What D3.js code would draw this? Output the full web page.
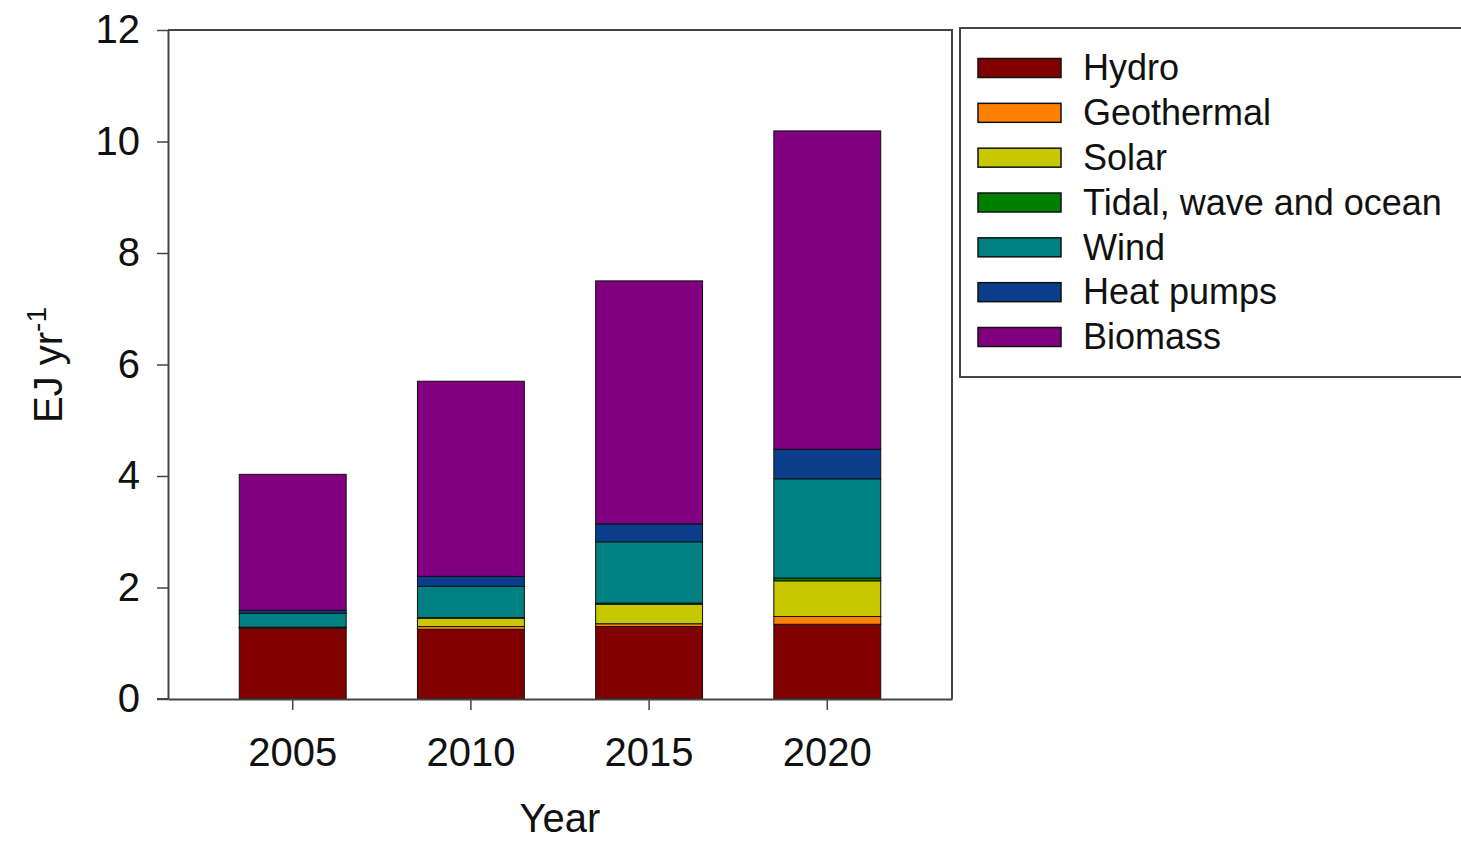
<!DOCTYPE html>
<html>
<head>
<meta charset="utf-8">
<script src="https://cdn.jsdelivr.net/npm/d3@7"></script>
<style>
  html, body { margin: 0; padding: 0; background: #fff; }
  svg { display: block; font-family: "Liberation Sans", Arial, sans-serif; }
</style>
</head>
<body>
<svg id="chart" width="1461" height="842"></svg>
<script>
// Renewable energy supply by source, EJ per year
const years = ["2005", "2010", "2015", "2020"];
const sources = ["Hydro", "Geothermal", "Solar", "Tidal, wave and ocean", "Wind", "Heat pumps", "Biomass"];
const hydro      = [1.27, 1.25, 1.30, 1.34];
const geothermal = [0.01, 0.05, 0.05, 0.14];
const solar      = [0.005, 0.15, 0.35, 0.64];
const tidal      = [0.005, 0.01, 0.02, 0.05];
const wind       = [0.25, 0.56, 1.10, 1.78];
const heatPumps  = [0.05, 0.18, 0.32, 0.53];
const biomass    = [2.44, 3.50, 4.36, 5.71];
const yTicks = [0, 2, 4, 6, 8, 10, 12];
const colors = ["#800000", "#ff8000", "#c8c800", "#008000", "#008080", "#0a3d8c", "#800080"];

const series = [hydro, geothermal, solar, tidal, wind, heatPumps, biomass];
const table = years.map((yr, i) => {
  const row = { year: yr };
  sources.forEach((s, k) => { row[s] = series[k][i]; });
  return row;
});

const svg = d3.select("#chart");
const plotL = 168, plotR = 952, plotT = 30, plotB = 699;

const x = d3.scaleBand().domain(years).range([plotL, plotR]).paddingInner(0.4).paddingOuter(0.4);
const y = d3.scaleLinear().domain([0, 12]).range([plotB, plotT]);
const color = d3.scaleOrdinal().domain(sources).range(colors);

const stacked = d3.stack().keys(sources)(table);

// stacked bars
svg.append("g").selectAll("g")
  .data(stacked)
  .join("g")
  .attr("fill", d => color(d.key))
  .selectAll("rect")
  .data(d => d)
  .join("rect")
  .attr("x", d => x(d.data.year))
  .attr("width", x.bandwidth())
  .attr("y", d => y(d[1]))
  .attr("height", d => y(d[0]) - y(d[1]))
  .attr("stroke", "#111")
  .attr("stroke-width", 1);

// frame: top and right edges
svg.append("path")
  .attr("d", `M${plotL},${plotT}H${plotR}V${plotB}`)
  .attr("fill", "none").attr("stroke", "#444").attr("stroke-width", 2);

// axes
const xAxis = svg.append("g").attr("transform", `translate(0,${plotB})`)
  .call(d3.axisBottom(x).tickSize(11).tickPadding(28).tickSizeOuter(0));
const yAxis = svg.append("g").attr("transform", `translate(${plotL},0)`)
  .call(d3.axisLeft(y).tickValues(yTicks).tickSize(11).tickPadding(17).tickSizeOuter(0));

[xAxis, yAxis].forEach(g => {
  g.select(".domain").attr("stroke", "#444").attr("stroke-width", 2);
  g.selectAll(".tick line").attr("stroke", "#444").attr("stroke-width", 1.5);
  g.selectAll(".tick text").attr("font-size", 40).attr("fill", "#111")
    .attr("font-family", "'Liberation Sans', Arial, sans-serif");
});
// extend bottom axis line to meet the zero tick
svg.append("line").attr("x1", plotL - 11).attr("x2", plotL).attr("y1", plotB).attr("y2", plotB)
  .attr("stroke", "#444").attr("stroke-width", 2);

// axis titles
svg.append("text")
  .attr("x", 560).attr("y", 832)
  .attr("text-anchor", "middle").attr("font-size", 40).attr("fill", "#111")
  .text("Year");

const yTitle = svg.append("text")
  .attr("transform", "translate(62,365) rotate(-90)")
  .attr("text-anchor", "middle").attr("font-size", 40).attr("fill", "#111");
yTitle.append("tspan").text("EJ yr");
yTitle.append("tspan").attr("dy", -16).attr("font-size", 28).text("-1");

// legend
const legend = svg.append("g");
legend.append("rect")
  .attr("x", 960).attr("y", 28).attr("width", 520).attr("height", 349)
  .attr("fill", "#fff").attr("stroke", "#444").attr("stroke-width", 2);

const rowY = d3.scalePoint().domain(sources).range([68, 337]);
const items = legend.selectAll("g.item")
  .data(sources)
  .join("g")
  .attr("class", "item")
  .attr("transform", d => `translate(0,${rowY(d)})`);
items.append("rect")
  .attr("x", 978).attr("y", -9.5).attr("width", 83).attr("height", 19)
  .attr("fill", d => color(d)).attr("stroke", "#111").attr("stroke-width", 1.5);
items.append("text")
  .attr("x", 1083).attr("y", 0).attr("dy", "0.34em")
  .attr("font-size", 36).attr("fill", "#111")
  .text(d => d);
</script>
</body>
</html>
